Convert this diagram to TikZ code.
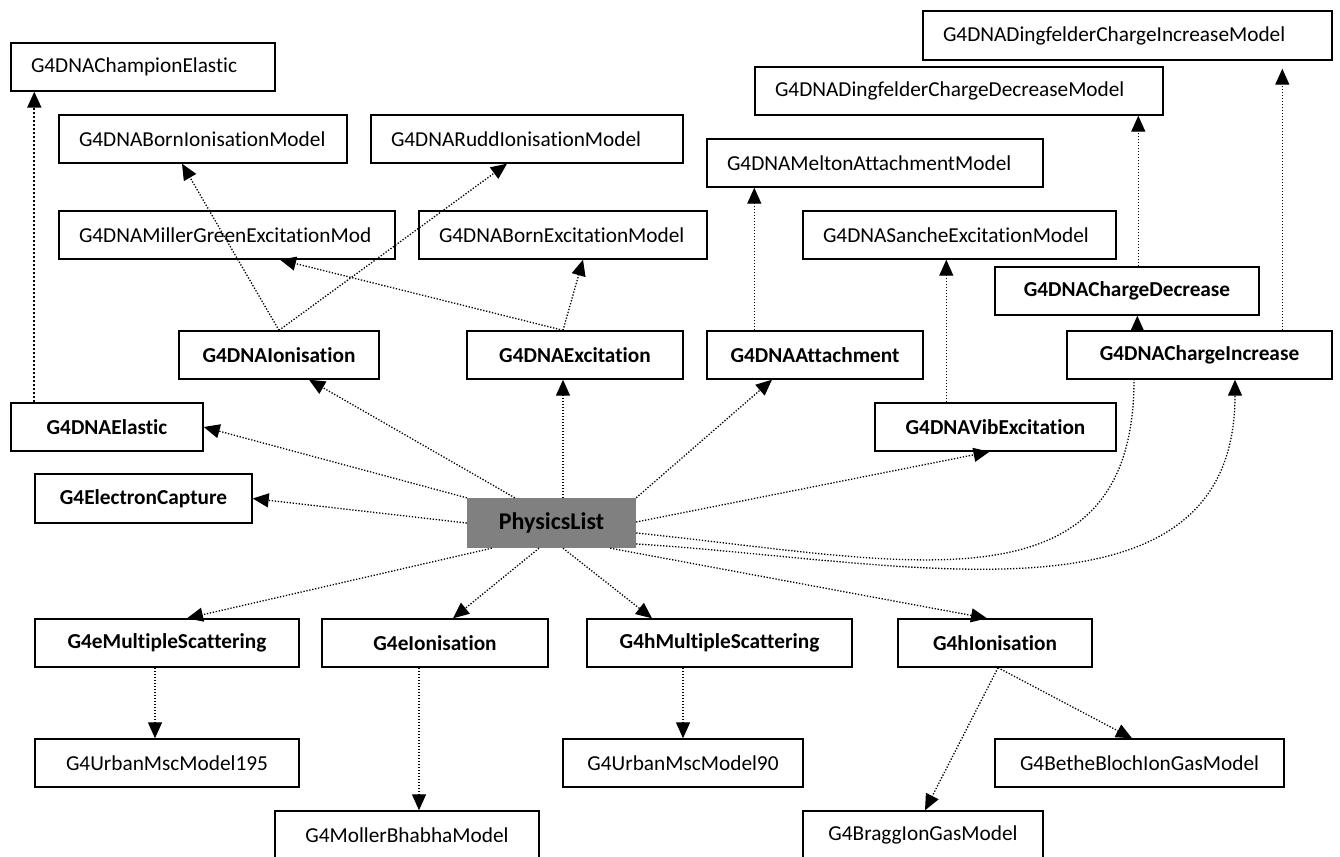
\documentclass[tikz,border=0pt]{standalone}
\usepackage{fontspec}
\setmainfont{Carlito}[Ligatures={NoCommon,NoContextual}]
\usetikzlibrary{arrows.meta}
\definecolor{plgray}{RGB}{128,128,128}
\newcommand\lbx[2]{\makebox[#1][l]{#2}}
\begin{document}
\begin{tikzpicture}[x=1pt,y=-1pt,
  base/.style={draw=black, line width=1.4pt, minimum height=48pt, inner sep=0pt,
    font=\fontsize{21.3}{25}\selectfont},
  proc/.style={base, font=\fontsize{21.3}{25}\selectfont\bfseries},
  lmodel/.style={base, inner xsep=20pt},
  cmodel/.style={base},
  plist/.style={draw=none, fill=plgray, minimum height=50pt, minimum width=169pt, inner sep=0pt,
    font=\fontsize{24}{28}\selectfont\bfseries},
  link/.style={line width=1.3pt, dash pattern=on 1.3pt off 1.7pt},
  conn/.style={link, -{Triangle[length=16pt,width=14pt]}},
  heavy/.style={line width=1.9pt, dash pattern=on 1.9pt off 2.1pt}
]
\useasboundingbox (0,0) rectangle (1340,856);
\clip (0,0) rectangle (1340,856);

% top model boxes (left aligned text)
\node[lmodel] (champ) at (143,67) {\lbx{224pt}{G4DNAChampionElastic}};
\node[lmodel] (bornion) at (203,139) {\lbx{248pt}{G4DNABornIonisationModel}};
\node[lmodel] (rudd) at (527,139) {\lbx{272pt}{G4DNARuddIonisationModel}};
\node[lmodel] (miller) at (227,235) {\lbx{296pt}{G4DNAMillerGreenExcitationMod}};
\node[lmodel] (bornexc) at (563,235) {\lbx{248pt}{G4DNABornExcitationModel}};
\node[lmodel] (dingdec) at (959,91) {\lbx{368pt}{G4DNADingfelderChargeDecreaseModel}};
\node[lmodel] (melton) at (875,163) {\lbx{296pt}{G4DNAMeltonAttachmentModel}};
\node[lmodel] (sanche) at (959.5,235) {\lbx{273pt}{G4DNASancheExcitationModel}};
\node[lmodel, minimum height=49pt] (dinginc) at (1127.5,35.5) {\lbx{369pt}{G4DNADingfelderChargeIncreaseModel}};

% process boxes
\node[proc, minimum width=264pt] (chdec) at (1127,291) {G4DNAChargeDecrease};
\node[proc, minimum width=265pt] (chinc) at (1199.5,355) {G4DNAChargeIncrease};
\node[proc, minimum width=200pt] (ion) at (279,355) {G4DNAIonisation};
\node[proc, minimum width=216pt] (exc) at (575,355) {G4DNAExcitation};
\node[proc, minimum width=216pt] (att) at (815,355) {G4DNAAttachment};
\node[proc, minimum width=192pt] (elastic) at (107,427) {G4DNAElastic};
\node[proc, minimum width=241pt] (vib) at (995.5,427) {G4DNAVibExcitation};
\node[proc, minimum width=217pt, minimum height=49pt] (ecap) at (143.5,498.5) {G4ElectronCapture};
\node[plist] (phys) at (551.5,523) {PhysicsList};
\node[proc, minimum width=264pt] (ems) at (167,643) {G4eMultipleScattering};
\node[proc, minimum width=226pt] (eion) at (435,643) {G4eIonisation};
\node[proc, minimum width=265pt] (hms) at (719.5,643) {G4hMultipleScattering};
\node[proc, minimum width=194pt] (hion) at (995,643) {G4hIonisation};

% bottom model boxes (centred text)
\node[cmodel, minimum width=264pt] (urb195) at (167,763) {G4UrbanMscModel195};
\node[cmodel, minimum width=264pt] (moller) at (407,835) {G4MollerBhabhaModel};
\node[cmodel, minimum width=240pt] (urb90) at (683,763) {G4UrbanMscModel90};
\node[cmodel, minimum width=240pt] (bragg) at (923,835) {G4BraggIonGasModel};
\node[cmodel, minimum width=289pt] (bethe) at (1139.5,763) {G4BetheBlochIonGasModel};

% connectors from PhysicsList
\draw[conn] (phys.north west) -- (elastic.east);
\draw[conn] (phys.west) -- (ecap.east);
\draw[conn] ([xshift=48pt]phys.north west) -- ([xshift=30pt]ion.south);
\draw[conn] ([xshift=11.5pt]phys.north) -- ([xshift=-12pt]exc.south);
\draw[conn] (phys.north east) -- ([xshift=-43pt]att.south);
\draw[conn] ([yshift=1pt]phys.east) -- ([xshift=-6pt]vib.south);
\draw[link] ([yshift=-10pt]phys.east) .. controls (900,560) and (1134,620) .. ([xshift=-65.5pt]chinc.south);
\draw[conn] ([yshift=-21pt]phys.east) .. controls (900,560) and (1235,640) .. ([xshift=35.5pt]chinc.south);
\draw[conn] ([xshift=25pt]phys.south west) -- ([xshift=20pt]ems.north);
\draw[conn] ([xshift=-12.5pt]phys.south) -- ([xshift=18pt]eion.north);
\draw[conn] ([xshift=11.5pt]phys.south) -- ([xshift=-67.5pt]hms.north);
\draw[conn] ([xshift=-26pt]phys.south east) -- ([xshift=-8pt]hion.north);

% lower connectors
\draw[conn] ([xshift=-12pt]ems.south) -- ([xshift=-12pt]urb195.north);
\draw[conn] ([xshift=-16pt]eion.south) -- ([xshift=12pt]moller.north);
\draw[conn] ([xshift=-36.5pt]hms.south) -- (urb90.north);
\draw[conn] ([xshift=3pt]hion.south) -- ([xshift=2pt]bragg.north);
\draw[conn] ([xshift=3pt]hion.south) -- ([xshift=-7.5pt]bethe.north);

% upper connectors
\draw[conn] (ion.north) -- ([xshift=-21pt]bornion.south);
\draw[conn] (ion.north) -- ([xshift=-20pt]rudd.south);
\draw[conn] ([xshift=-12pt]exc.north) -- ([xshift=53pt]miller.south);
\draw[conn] ([xshift=-12pt]exc.north) -- ([xshift=20pt]bornexc.south);
\draw[conn, heavy] ([xshift=24pt]elastic.north west) -- ([xshift=24pt]champ.south west);
\draw[conn] ([xshift=48pt]att.north west) -- ([xshift=48pt]melton.south west);
\draw[conn] ([xshift=72pt]vib.north west) -- ([xshift=144pt]sanche.south west);
\draw[conn] ([xshift=71pt]chinc.north west) -- ([xshift=143pt]chdec.south west);
\draw[conn] ([xshift=216pt]chinc.north west) -- ([xshift=360pt,yshift=-8pt]dinginc.south west);
\draw[conn] ([xshift=144pt]chdec.north west) -- ([xshift=384pt]dingdec.south west);
\end{tikzpicture}
\end{document}
